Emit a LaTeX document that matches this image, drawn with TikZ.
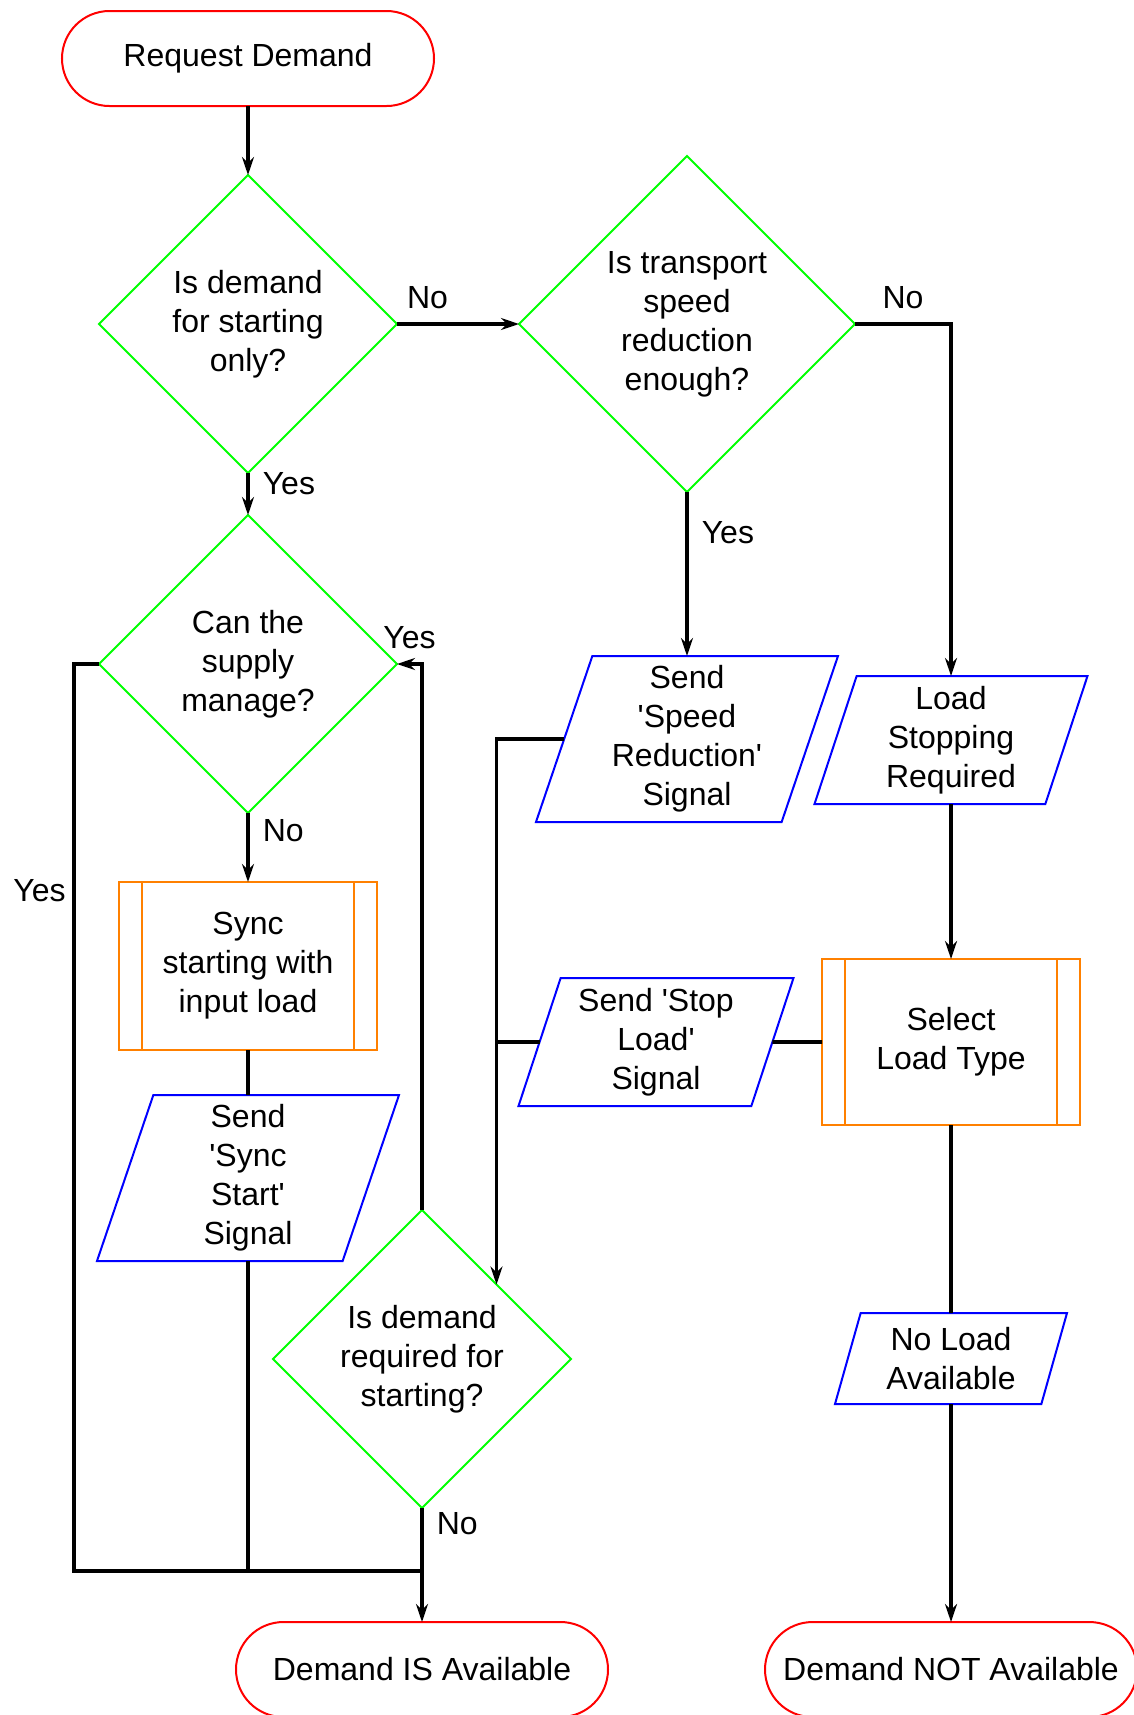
\documentclass[tikz,border=0pt]{standalone}
\usepackage{fontspec}
\setmainfont{Liberation Sans}
\usetikzlibrary{arrows.meta,positioning,shapes.geometric}
\tikzset{
  term/.style={draw=red,line width=1pt,outer sep=0pt,rectangle,rounded corners=23.75pt,
    minimum width=186pt,minimum height=47.5pt,align=center},
  decision/.style={draw=green,line width=1pt,outer sep=0pt,diamond,aspect=1,inner sep=0pt,
    minimum width=149pt,minimum height=149pt,align=center},
  io/.style={draw=blue,line width=1pt,outer sep=0pt,trapezium,trapezium left angle=70,
    trapezium right angle=110,trapezium stretches body=true,inner sep=2pt,align=center},
  subproc/.style={draw=orange,line width=1pt,outer sep=0pt,rectangle,align=center,
    minimum width=129pt,minimum height=84pt,
    path picture={\draw[orange,line width=1pt]
      ([xshift=11.5pt]path picture bounding box.north west) -- ([xshift=11.5pt]path picture bounding box.south west)
      ([xshift=-11.5pt]path picture bounding box.north east) -- ([xshift=-11.5pt]path picture bounding box.south east);}},
  lbl/.style={inner sep=6.5pt},
  arrow/.style={-{Stealth[length=9pt,width=6pt,inset=3pt]},line width=1.8pt},
  link/.style={line width=1.8pt}
}
\begin{document}
\begin{tikzpicture}[x=0.5pt,y=-0.5pt,font=\fontsize{16}{19.5}\selectfont]
\useasboundingbox (0,0) rectangle (1134,1715);
\node[term] (req) at (248,58.5) {Request Demand};
\node[decision,below=34.5pt of req] (start) {Is demand\\for starting\\only?};
\node[decision,right=61pt of start,minimum width=168pt,minimum height=168pt] (speed) {Is transport\\speed\\reduction\\enough?};
\node[decision,below=21pt of start] (supply) {Can the\\supply\\manage?};
\node[subproc,below=34.5pt of supply] (sync) {Sync\\starting with\\input load};
\node[io,below=22.5pt of sync,minimum width=151pt,minimum height=83pt] (syncsig) {Send\\\textquotesingle Sync\\Start\textquotesingle\\Signal};
\node[decision] (required) at (422,1359) {Is demand\\required for\\starting?};
\node[term,below=57pt of required] (isavail) {Demand IS Available};
\node[io,below=82pt of speed,minimum width=151pt,minimum height=83pt] (speedsig) {Send\\\textquotesingle Speed\\Reduction\textquotesingle\\Signal};
\node[io,minimum width=136.5pt,minimum height=64pt] (loadstop) at (951,740) {Load\\Stopping\\Required};
\node[subproc,below=77.5pt of loadstop,minimum height=83pt] (select) {Select\\Load Type};
\node[io,minimum width=137.5pt,minimum height=64pt] (stopsig) at (656,1042) {Send \textquotesingle Stop\\Load\textquotesingle\\Signal};
\node[io,below=94pt of select,minimum width=116pt,minimum height=45.5pt] (noload) {No Load\\Available};
\node[term,below=109pt of noload] (notavail) {Demand NOT Available};
\coordinate (join) at (422,1571);
% left column
\draw[arrow] (req) -- (start);
\draw[arrow] (start) -- node[lbl,right,pos=0.25]{Yes} (supply);
\draw[arrow] (start) -- node[lbl,above,pos=0.25]{No} (speed);
\draw[arrow] (supply) -- node[lbl,right,pos=0.25]{No} (sync);
\draw[link] (sync) -- (syncsig);
\draw[link] (syncsig.south) |- (join);
\draw[link] (supply.west) -- ++(-25,0) |- node[left,pos=0.125]{Yes} (join);
\draw[arrow] (required.north) |- node[lbl,above,pos=0.75]{Yes} (supply.east);
\draw[link] (required) -- node[lbl,right,pos=0.25]{No} (join);
\draw[arrow] (join) -- (isavail);
% right columns
\draw[arrow] (speed) -- node[lbl,right,pos=0.25]{Yes} (speedsig);
\draw[arrow] (speed.east) -| node[lbl,above,pos=0.25]{No} (loadstop.north);
\draw[arrow] (speedsig.west) -| (required.north east);
\draw[link] (stopsig.west) -- (stopsig.west -| required.north east);
\draw[arrow] (loadstop) -- (select);
\draw[link] (select) -- (stopsig);
\draw[link] (select) -- (noload);
\draw[arrow] (noload) -- (notavail);
\end{tikzpicture}
\end{document}
